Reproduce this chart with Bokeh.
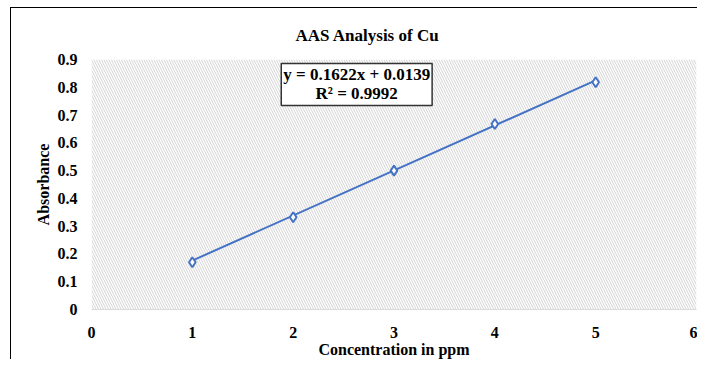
from bokeh.plotting import figure
from bokeh.layouts import column
from bokeh.models import Range1d, FixedTicker, BoxAnnotation, Label, Title
from bokeh.embed import file_html
from bokeh.resources import INLINE

# Data
concentration = [1, 2, 3, 4, 5]
absorbance = [0.170, 0.332, 0.500, 0.668, 0.818]
slope = 0.1622
intercept = 0.0139
r_squared = 0.9992

x_ticks = [0, 1, 2, 3, 4, 5, 6]
y_ticks = [0, 0.1, 0.2, 0.3, 0.4, 0.5, 0.6, 0.7, 0.8, 0.9]
y_tick_labels = ["0", "0.1", "0.2", "0.3", "0.4", "0.5", "0.6", "0.7", "0.8", "0.9"]

title_text = "AAS Analysis of Cu"
x_label = "Concentration in ppm"
y_label = "Absorbance"

FONT = "Liberation Serif"
BLUE = "#4472C4"

p = figure(width=687, height=352, output_backend="svg", toolbar_location=None,
           x_range=Range1d(0, 6), y_range=Range1d(0, 0.9),
           min_border_left=80, min_border_right=2, min_border_top=50, min_border_bottom=48)
p.styles = {"border-left": "1.5px solid black", "border-top": "1.5px solid black"}

p.title = Title(text=title_text, align="left", offset=204, standoff=30,
                text_font=FONT, text_font_size="17px", text_font_style="bold",
                text_color="black")

p.outline_line_color = None
p.xgrid.grid_line_color = None
p.ygrid.grid_line_color = None
p.background_fill_color = "white"
p.border_fill_color = "white"

# hatched plot area
p.add_layout(BoxAnnotation(left=0, right=6, bottom=0, top=0.9, fill_alpha=0,
                           line_color=None, hatch_pattern="left_diagonal_line",
                           hatch_color="#d3d3d3", hatch_scale=5, hatch_weight=1,
                           level="underlay"))

# axes
p.xaxis.ticker = FixedTicker(ticks=x_ticks)
p.yaxis.ticker = FixedTicker(ticks=y_ticks)
p.yaxis.major_label_overrides = {t: l for t, l in zip(y_ticks, y_tick_labels)}
for ax in (p.xaxis[0], p.yaxis[0]):
    ax.major_tick_line_color = None
    ax.minor_tick_line_color = None
    ax.major_label_text_font = FONT
    ax.major_label_text_font_size = "16px"
    ax.major_label_text_font_style = "bold"
    ax.major_label_text_color = "black"
    ax.axis_label_text_font = FONT
    ax.axis_label_text_font_size = "16px"
    ax.axis_label_text_font_style = "bold"
    ax.axis_label_text_color = "black"
p.xaxis.axis_line_color = "#d9d9d9"
p.yaxis.axis_line_color = None
p.xaxis.major_label_standoff = 11
p.yaxis.major_label_standoff = 8
p.xaxis.axis_label = x_label
p.yaxis.axis_label = y_label
p.xaxis.axis_label_standoff = 0
p.yaxis.axis_label_standoff = 3

# trendline
tx = [concentration[0], concentration[-1]]
ty = [slope * v + intercept for v in tx]
p.line(tx, ty, line_color=BLUE, line_width=2)

p.scatter(concentration, absorbance, marker="diamond", size=10,
          fill_color="white", line_color=BLUE, line_width=2)

eq = Label(x=2.63, y=0.886, text=f"y = {slope}x + {intercept}\nR\u00b2 = {r_squared}",
           text_align="center", text_baseline="top", text_font=FONT,
           text_font_size="17px", text_font_style="bold", text_color="black",
           background_fill_color="white", border_line_color="#333333",
           border_line_width=1.5, padding=2, text_line_height=1.0)
p.add_layout(eq)

layout = column(p, styles={"padding-left": "10px", "padding-top": "7px"})

open("out.html", "w").write(file_html(layout, INLINE))
